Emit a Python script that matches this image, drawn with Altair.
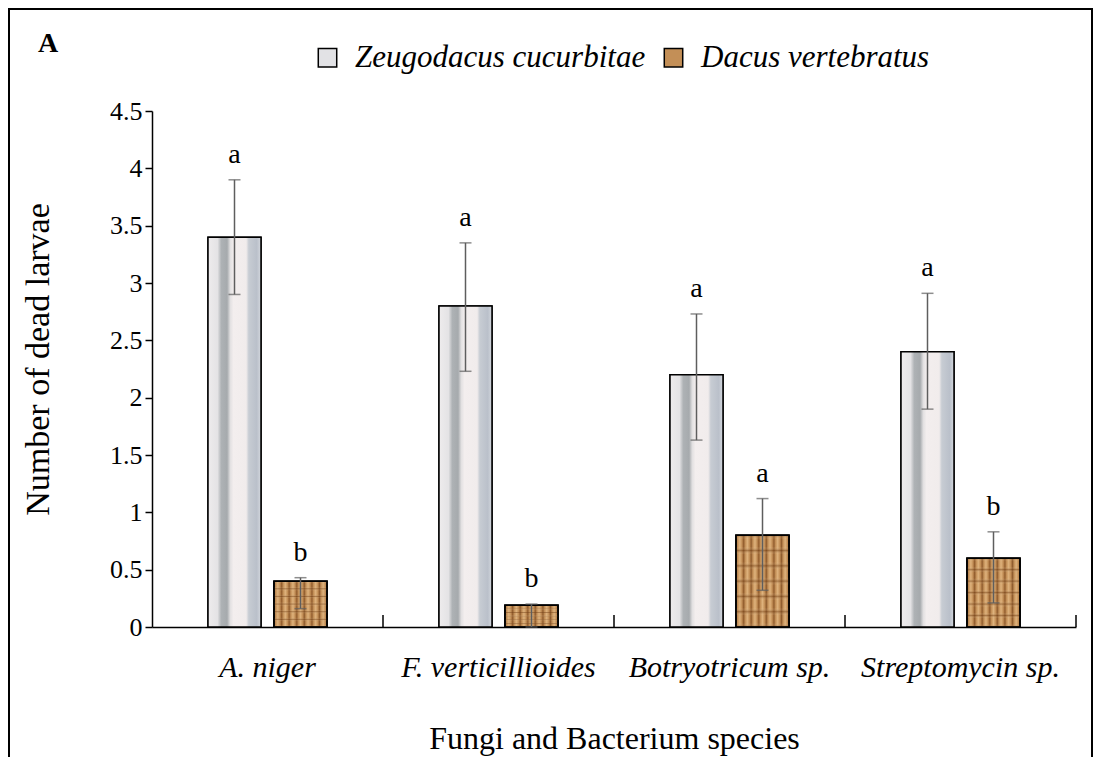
import altair as alt
import pandas as pd

# ---- data ----
categories = ["A. niger", "F. verticillioides", "Botryotricum sp.", "Streptomycin sp."]
series_names = ["Zeugodacus cucurbitae", "Dacus vertebratus"]

z_mean = [3.4, 2.8, 2.2, 2.4]
z_low = [2.9, 2.23, 1.63, 1.9]
z_high = [3.9, 3.35, 2.73, 2.91]
z_letters = ["a", "a", "a", "a"]

d_mean = [0.4, 0.19, 0.8, 0.6]
d_low = [0.16, 0.0, 0.32, 0.21]
d_high = [0.43, 0.2, 1.12, 0.83]
d_letters = ["b", "b", "a", "b"]

y_ticks = [0, 0.5, 1, 1.5, 2, 2.5, 3, 3.5, 4, 4.5]

rows = []
for i, c in enumerate(categories):
    rows.append(dict(cat=c, series=series_names[0], mean=z_mean[i], low=z_low[i], high=z_high[i], letter=z_letters[i]))
    rows.append(dict(cat=c, series=series_names[1], mean=d_mean[i], low=d_low[i], high=d_high[i], letter=d_letters[i]))
df = pd.DataFrame(rows)
cat_df = pd.DataFrame({"cat": categories})
one = pd.DataFrame({"k": [0]})

SERIF = "Liberation Serif, Times New Roman, serif"

x_scale = alt.Scale(domain=categories, paddingInner=0, paddingOuter=0)
off_scale = alt.Scale(domain=series_names, paddingInner=0.197, paddingOuter=0.8485)
y_scale = alt.Scale(domain=[0, 4.5], nice=False, zero=True)

X = alt.X("cat:N", scale=x_scale, sort=categories,
          axis=alt.Axis(title="Fungi and Bacterium species", labelAngle=0, labelFont=SERIF,
                        labelFontStyle="italic", labelFontSize=30, labelColor="black",
                        ticks=False, tickSize=0, labelPadding=25, labelLimit=0,
                        titleFont=SERIF, titleFontSize=32, titleFontWeight="normal",
                        titleColor="black", titlePadding=41,
                        domainColor="black", domainWidth=1.5, grid=False))
XO = alt.XOffset("series:N", scale=off_scale, sort=series_names)
Y = alt.Y("mean:Q", scale=y_scale,
          axis=alt.Axis(title="Number of dead larvae", values=y_ticks, format="~g",
                        labelFont=SERIF, labelFontSize=26, labelColor="black", labelPadding=3,
                        tickSize=7, tickColor="black", tickWidth=1.5,
                        domainColor="black", domainWidth=1.5, grid=False,
                        titleFont=SERIF, titleFontSize=34, titleFontWeight="normal",
                        titleColor="black", titlePadding=54, titleY=248))

# ---- fills (style only) ----
z_grad = alt.Gradient(gradient="linear", x1=0, y1=0, x2=1, y2=0, stops=[
    alt.GradientStop(offset=0.0, color="#eeeced"),
    alt.GradientStop(offset=0.18, color="#e4e3e5"),
    alt.GradientStop(offset=0.25, color="#aeb2b5"),
    alt.GradientStop(offset=0.36, color="#a6aaad"),
    alt.GradientStop(offset=0.42, color="#e2e0e1"),
    alt.GradientStop(offset=0.48, color="#f3eeee"),
    alt.GradientStop(offset=0.72, color="#f1ecec"),
    alt.GradientStop(offset=0.77, color="#c7ccd3"),
    alt.GradientStop(offset=0.92, color="#bac0ca"),
    alt.GradientStop(offset=1.0, color="#d5d9df"),
])

d_stops = []
n_threads = 7
w = 1.0 / n_threads
for i in range(n_threads):
    a = i * w
    d_stops += [
        alt.GradientStop(offset=round(a + 0.001, 4), color="#8f5c2e"),
        alt.GradientStop(offset=round(a + 0.22 * w, 4), color="#c38f57"),
        alt.GradientStop(offset=round(a + 0.5 * w, 4), color="#deb27c"),
        alt.GradientStop(offset=round(a + 0.78 * w, 4), color="#c38f57"),
        alt.GradientStop(offset=round(a + w - 0.001, 4), color="#955f2f"),
    ]
d_grad = alt.Gradient(gradient="linear", x1=0, y1=0, x2=1, y2=0, stops=d_stops)

row_stops = []
n_rows = 6
h = 1.0 / n_rows
for i in range(n_rows):
    a = i * h
    row_stops += [
        alt.GradientStop(offset=round(a + 0.001, 4), color="rgba(110,60,20,0.45)"),
        alt.GradientStop(offset=round(a + 0.25 * h, 4), color="rgba(255,230,190,0.0)"),
        alt.GradientStop(offset=round(a + 0.75 * h, 4), color="rgba(255,230,190,0.0)"),
        alt.GradientStop(offset=round(a + h - 0.001, 4), color="rgba(110,60,20,0.45)"),
    ]
d_rows = alt.Gradient(gradient="linear", x1=0, y1=0, x2=0, y2=1, stops=row_stops)

base = alt.Chart(df)

frame = alt.Chart(one).mark_rect(fill="white", fillOpacity=0, stroke="black", strokeWidth=2).encode(
    x=alt.value(-143), x2=alt.value(940), y=alt.value(-102), y2=alt.value(700))

panel_letter = alt.Chart(one).mark_text(text="A", font=SERIF, fontSize=28, fontWeight="bold",
                                        align="left", baseline="alphabetic", color="black").encode(
    x=alt.value(-114), y=alt.value(-59))

legend_bars = base.mark_bar(stroke="black", strokeWidth=1.5).encode(
    x=X, xOffset=XO, y=Y,
    color=alt.Color("series:N", sort=series_names,
                    scale=alt.Scale(domain=series_names, range=["#e2e2e5", "#c38f57"]),
                    legend=alt.Legend(orient="none", legendX=160, legendY=-69, direction="horizontal",
                                      title=None, symbolType="square", symbolSize=340,
                                      symbolStrokeColor="black", symbolStrokeWidth=1.5,
                                      labelFont=SERIF, labelFontSize=31, labelFontStyle="italic",
                                      labelColor="black", labelOffset=12, columnPadding=12,
                                      labelLimit=0)))

z_bars = base.transform_filter(alt.datum.series == series_names[0]).mark_bar(
    fill=z_grad, stroke="black", strokeWidth=1.5).encode(x=X, xOffset=XO, y=Y)
d_bars = base.transform_filter(alt.datum.series == series_names[1]).mark_bar(
    fill=d_grad, stroke="black", strokeWidth=1.5).encode(x=X, xOffset=XO, y=Y)
d_rows_layer = base.transform_filter(alt.datum.series == series_names[1]).mark_bar(
    fill=d_rows, strokeWidth=0).encode(x=X, xOffset=XO, y=Y)
d_outline = base.transform_filter(alt.datum.series == series_names[1]).mark_bar(
    fill="transparent", stroke="black", strokeWidth=1.5).encode(x=X, xOffset=XO, y=Y)

err = base.mark_rule(color="#5e5e5e", strokeWidth=1.5).encode(
    x=X, xOffset=XO, y=alt.Y("low:Q", scale=y_scale), y2="high:Q")
cap_lo = base.mark_tick(color="#5e5e5e", thickness=1.5, size=12).encode(
    x=X, xOffset=XO, y=alt.Y("low:Q", scale=y_scale))
cap_hi = base.mark_tick(color="#5e5e5e", thickness=1.5, size=12).encode(
    x=X, xOffset=XO, y=alt.Y("high:Q", scale=y_scale))

letters = base.mark_text(font=SERIF, fontSize=28, color="black", baseline="alphabetic", dy=-17).encode(
    x=X, xOffset=XO, y=alt.Y("high:Q", scale=y_scale), text="letter:N")

sep_ticks = alt.Chart(cat_df).mark_rule(color="black", strokeWidth=1.5).encode(
    x=alt.X("cat:N", scale=x_scale, sort=categories, bandPosition=1),
    y=alt.datum(0), y2=alt.datum(0.105))

chart = alt.layer(
    frame, panel_letter, legend_bars, z_bars, d_bars, d_rows_layer, d_outline,
    err, cap_lo, cap_hi, letters, sep_ticks
).properties(
    width=924, height=516,
    autosize=alt.AutoSizeParams(type="none"),
    padding={"left": 144, "top": 103, "right": 17, "bottom": 130},
    background="white",
).configure_view(stroke=None).configure_axis(
    labelFont=SERIF, titleFont=SERIF
).configure_legend(labelFont=SERIF).configure_text(font=SERIF)

chart.save("out.html", embed_options={"renderer": "svg", "actions": False})
